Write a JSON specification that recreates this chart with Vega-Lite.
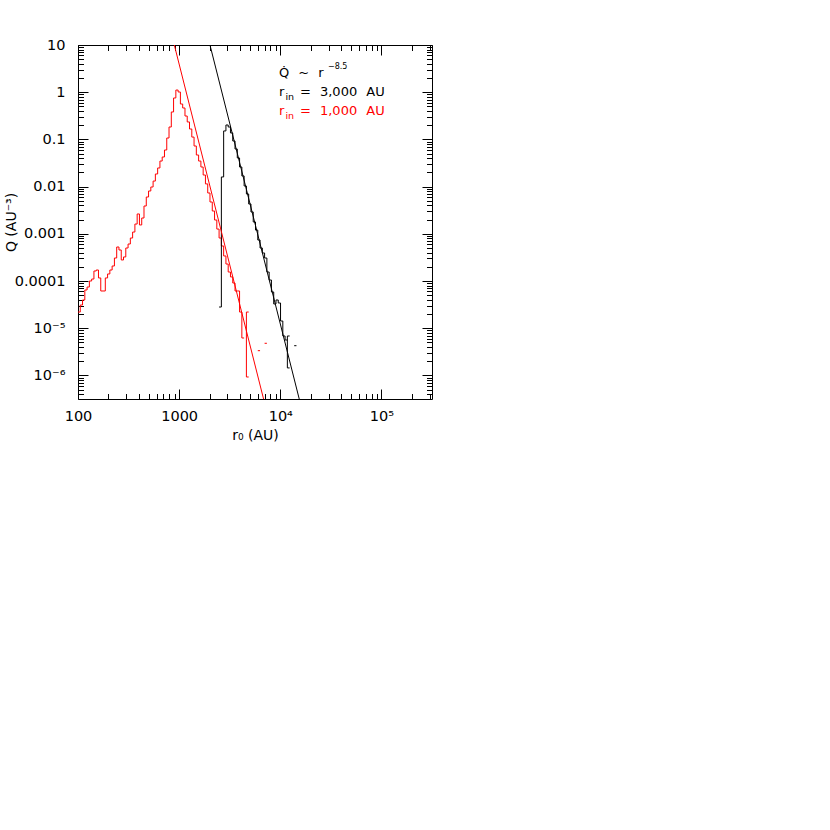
{
  "$schema": "https://vega.github.io/schema/vega-lite/v6.json",
  "width": 354,
  "height": 354,
  "autosize": {"type": "none"},
  "padding": {"left": 78, "top": 45, "right": 398, "bottom": 431},
  "background": "white",
  "config": {
    "view": {"stroke": null},
    "axis": {
      "grid": false,
      "domainColor": "#000000",
      "domainWidth": 1,
      "tickColor": "#000000",
      "tickWidth": 1,
      "labelColor": "#000000",
      "titleColor": "#000000",
      "labelFont": "DejaVu Sans",
      "titleFont": "DejaVu Sans",
      "labelFontSize": 14.5,
      "titleFontSize": 14,
      "titleFontWeight": "normal",
      "labelFlush": false,
      "labelOverlap": false
    }
  },
  "datasets": {
    "hist": [
      {"s": "r1", "c": "red", "i": 0, "r": 100, "Q": 2.2e-5},
      {"s": "r1", "c": "red", "i": 1, "r": 105.3, "Q": 3.1e-5},
      {"s": "r1", "c": "red", "i": 2, "r": 110.9, "Q": 3.96e-5},
      {"s": "r1", "c": "red", "i": 3, "r": 116.8, "Q": 6.45e-5},
      {"s": "r1", "c": "red", "i": 4, "r": 123.0, "Q": 7.46e-5},
      {"s": "r1", "c": "red", "i": 5, "r": 129.6, "Q": 1.0e-4},
      {"s": "r1", "c": "red", "i": 6, "r": 136.5, "Q": 1.1e-4},
      {"s": "r1", "c": "red", "i": 7, "r": 143.7, "Q": 1.63e-4},
      {"s": "r1", "c": "red", "i": 8, "r": 151.4, "Q": 1.71e-4},
      {"s": "r1", "c": "red", "i": 9, "r": 159.4, "Q": 1.16e-4},
      {"s": "r1", "c": "red", "i": 10, "r": 167.9, "Q": 6.14e-5},
      {"s": "r1", "c": "red", "i": 11, "r": 176.8, "Q": 6.14e-5},
      {"s": "r1", "c": "red", "i": 12, "r": 186.2, "Q": 1.16e-4},
      {"s": "r1", "c": "red", "i": 13, "r": 196.1, "Q": 1.41e-4},
      {"s": "r1", "c": "red", "i": 14, "r": 206.5, "Q": 1.71e-4},
      {"s": "r1", "c": "red", "i": 15, "r": 217.5, "Q": 2.08e-4},
      {"s": "r1", "c": "red", "i": 16, "r": 229.1, "Q": 3.07e-4},
      {"s": "r1", "c": "red", "i": 17, "r": 241.3, "Q": 5.25e-4},
      {"s": "r1", "c": "red", "i": 18, "r": 254.1, "Q": 4.54e-4},
      {"s": "r1", "c": "red", "i": 19, "r": 267.6, "Q": 2.79e-4},
      {"s": "r1", "c": "red", "i": 20, "r": 281.8, "Q": 3.23e-4},
      {"s": "r1", "c": "red", "i": 21, "r": 296.8, "Q": 5.0e-4},
      {"s": "r1", "c": "red", "i": 22, "r": 312.6, "Q": 6.08e-4},
      {"s": "r1", "c": "red", "i": 23, "r": 329.2, "Q": 8.14e-4},
      {"s": "r1", "c": "red", "i": 24, "r": 346.7, "Q": 1.09e-3},
      {"s": "r1", "c": "red", "i": 25, "r": 365.2, "Q": 1.61e-3},
      {"s": "r1", "c": "red", "i": 26, "r": 384.6, "Q": 2.63e-3},
      {"s": "r1", "c": "red", "i": 27, "r": 405.1, "Q": 1.54e-3},
      {"s": "r1", "c": "red", "i": 28, "r": 426.6, "Q": 2.16e-3},
      {"s": "r1", "c": "red", "i": 29, "r": 449.3, "Q": 3.88e-3},
      {"s": "r1", "c": "red", "i": 30, "r": 473.2, "Q": 6.02e-3},
      {"s": "r1", "c": "red", "i": 31, "r": 498.4, "Q": 8.07e-3},
      {"s": "r1", "c": "red", "i": 32, "r": 524.8, "Q": 9.81e-3},
      {"s": "r1", "c": "red", "i": 33, "r": 552.7, "Q": 1.31e-2},
      {"s": "r1", "c": "red", "i": 34, "r": 582.1, "Q": 1.85e-2},
      {"s": "r1", "c": "red", "i": 35, "r": 613.1, "Q": 2.48e-2},
      {"s": "r1", "c": "red", "i": 36, "r": 645.7, "Q": 3.48e-2},
      {"s": "r1", "c": "red", "i": 37, "r": 680.0, "Q": 4.24e-2},
      {"s": "r1", "c": "red", "i": 38, "r": 716.1, "Q": 5.96e-2},
      {"s": "r1", "c": "red", "i": 39, "r": 754.2, "Q": 0.107},
      {"s": "r1", "c": "red", "i": 40, "r": 794.3, "Q": 0.183},
      {"s": "r1", "c": "red", "i": 41, "r": 836.6, "Q": 0.381},
      {"s": "r1", "c": "red", "i": 42, "r": 881.0, "Q": 0.754},
      {"s": "r1", "c": "red", "i": 43, "r": 927.9, "Q": 1.11},
      {"s": "r1", "c": "red", "i": 44, "r": 977.2, "Q": 1.01},
      {"s": "r1", "c": "red", "i": 45, "r": 1029, "Q": 0.562},
      {"s": "r1", "c": "red", "i": 46, "r": 1084, "Q": 0.463},
      {"s": "r1", "c": "red", "i": 47, "r": 1142, "Q": 0.313},
      {"s": "r1", "c": "red", "i": 48, "r": 1202, "Q": 0.234},
      {"s": "r1", "c": "red", "i": 49, "r": 1266, "Q": 0.166},
      {"s": "r1", "c": "red", "i": 50, "r": 1334, "Q": 0.112},
      {"s": "r1", "c": "red", "i": 51, "r": 1404, "Q": 0.0725},
      {"s": "r1", "c": "red", "i": 52, "r": 1479, "Q": 0.0467},
      {"s": "r1", "c": "red", "i": 53, "r": 1558, "Q": 0.0348},
      {"s": "r1", "c": "red", "i": 54, "r": 1641, "Q": 0.026},
      {"s": "r1", "c": "red", "i": 55, "r": 1728, "Q": 0.0176},
      {"s": "r1", "c": "red", "i": 56, "r": 1820, "Q": 0.0114},
      {"s": "r1", "c": "red", "i": 57, "r": 1917, "Q": 0.00732},
      {"s": "r1", "c": "red", "i": 58, "r": 2018, "Q": 0.00472},
      {"s": "r1", "c": "red", "i": 59, "r": 2126, "Q": 0.00304},
      {"s": "r1", "c": "red", "i": 60, "r": 2239, "Q": 0.00196},
      {"s": "r1", "c": "red", "i": 61, "r": 2358, "Q": 0.00126},
      {"s": "r1", "c": "red", "i": 62, "r": 2483, "Q": 0.000814},
      {"s": "r1", "c": "red", "i": 63, "r": 2615, "Q": 0.000552},
      {"s": "r1", "c": "red", "i": 64, "r": 2754, "Q": 0.000339},
      {"s": "r1", "c": "red", "i": 65, "r": 2901, "Q": 0.000229},
      {"s": "r1", "c": "red", "i": 66, "r": 3055, "Q": 0.000155},
      {"s": "r1", "c": "red", "i": 67, "r": 3217, "Q": 0.000122},
      {"s": "r1", "c": "red", "i": 68, "r": 3388, "Q": 9.07e-5},
      {"s": "r1", "c": "red", "i": 69, "r": 3568, "Q": 6.14e-5},
      {"s": "r1", "c": "red", "i": 70, "r": 3758, "Q": 6.14e-5},
      {"s": "r1", "c": "red", "i": 71, "r": 3958, "Q": 2.2e-5},
      {"s": "r1", "c": "red", "i": 72, "r": 4169, "Q": 6.2e-6},
      {"s": "r1", "c": "red", "i": 73, "r": 4390, "Q": 6.2e-6},
      {"s": "r2", "c": "red", "i": 74, "r": 4870, "Q": 2.2e-5},
      {"s": "r2", "c": "red", "i": 75, "r": 4624, "Q": 9.25e-7},
      {"s": "r2", "c": "red", "i": 76, "r": 4870, "Q": 9.25e-7},
      {"s": "r3", "c": "red", "i": 77, "r": 5992, "Q": 3.34e-6},
      {"s": "r3", "c": "red", "i": 78, "r": 6310, "Q": 3.34e-6},
      {"s": "r4", "c": "red", "i": 79, "r": 6998, "Q": 4.79e-6},
      {"s": "r4", "c": "red", "i": 80, "r": 7370, "Q": 4.79e-6},
      {"s": "b1", "c": "black", "i": 81, "r": 2483, "Q": 2.81e-5},
      {"s": "b1", "c": "black", "i": 82, "r": 2615, "Q": 0.016},
      {"s": "b1", "c": "black", "i": 83, "r": 2754, "Q": 0.151},
      {"s": "b1", "c": "black", "i": 84, "r": 2901, "Q": 0.202},
      {"s": "b1", "c": "black", "i": 85, "r": 3055, "Q": 0.183},
      {"s": "b1", "c": "black", "i": 86, "r": 3217, "Q": 0.137},
      {"s": "b1", "c": "black", "i": 87, "r": 3388, "Q": 0.0925},
      {"s": "b1", "c": "black", "i": 88, "r": 3568, "Q": 0.0626},
      {"s": "b1", "c": "black", "i": 89, "r": 3758, "Q": 0.0404},
      {"s": "b1", "c": "black", "i": 90, "r": 3958, "Q": 0.026},
      {"s": "b1", "c": "black", "i": 91, "r": 4169, "Q": 0.0168},
      {"s": "b1", "c": "black", "i": 92, "r": 4390, "Q": 0.0103},
      {"s": "b1", "c": "black", "i": 93, "r": 4624, "Q": 0.00697},
      {"s": "b1", "c": "black", "i": 94, "r": 4870, "Q": 0.00428},
      {"s": "b1", "c": "black", "i": 95, "r": 5129, "Q": 0.0029},
      {"s": "b1", "c": "black", "i": 96, "r": 5401, "Q": 0.00178},
      {"s": "b1", "c": "black", "i": 97, "r": 5689, "Q": 0.0012},
      {"s": "b1", "c": "black", "i": 98, "r": 5992, "Q": 0.000739},
      {"s": "b1", "c": "black", "i": 99, "r": 6310, "Q": 0.0005},
      {"s": "b1", "c": "black", "i": 100, "r": 6646, "Q": 0.000392},
      {"s": "b1", "c": "black", "i": 101, "r": 6998, "Q": 0.000307},
      {"s": "b1", "c": "black", "i": 102, "r": 7370, "Q": 0.000155},
      {"s": "b1", "c": "black", "i": 103, "r": 7762, "Q": 0.000105},
      {"s": "b1", "c": "black", "i": 104, "r": 8175, "Q": 5.85e-5},
      {"s": "b1", "c": "black", "i": 105, "r": 8610, "Q": 3.26e-5},
      {"s": "b1", "c": "black", "i": 106, "r": 9068, "Q": 3.96e-5},
      {"s": "b1", "c": "black", "i": 107, "r": 9550, "Q": 3.42e-5},
      {"s": "b1", "c": "black", "i": 108, "r": 10058, "Q": 1.42e-5},
      {"s": "b1", "c": "black", "i": 109, "r": 10593, "Q": 6.84e-6},
      {"s": "b1", "c": "black", "i": 110, "r": 11156, "Q": 5.62e-6},
      {"s": "b1", "c": "black", "i": 111, "r": 11749, "Q": 5.62e-6},
      {"s": "b2", "c": "black", "i": 112, "r": 12374, "Q": 6.84e-6},
      {"s": "b2", "c": "black", "i": 113, "r": 11749, "Q": 1.44e-6},
      {"s": "b2", "c": "black", "i": 114, "r": 12374, "Q": 1.44e-6},
      {"s": "b3", "c": "black", "i": 115, "r": 13725, "Q": 4.26e-6},
      {"s": "b3", "c": "black", "i": 116, "r": 14454, "Q": 4.26e-6}
    ],
    "fitBlack": [
      {"c": "black", "r": 1800, "Q": 26.4},
      {"c": "black", "r": 17000, "Q": 1.36e-7}
    ],
    "fitRed": [
      {"c": "red", "r": 800, "Q": 26.2},
      {"c": "red", "r": 7000, "Q": 2.58e-7}
    ],
    "notes": [
      {"t": "Q\u0307\u2002\u2009~\u2002\u2009r", "c": "black", "r": 9705, "Q": 2.1},
      {"t": "r", "c": "black", "r": 9705, "Q": 0.831},
      {"t": "r", "c": "red", "r": 9705, "Q": 0.329}
    ],
    "subs": [
      {"t": "in", "c": "black", "r": 9705, "Q": 0.831},
      {"t": "in", "c": "red", "r": 9705, "Q": 0.329}
    ],
    "rest": [
      {"t": "=\u2002\u20093,000\u2002\u2009AU", "c": "black", "r": 9705, "Q": 0.831},
      {"t": "=\u2002\u20091,000\u2002\u2009AU", "c": "red", "r": 9705, "Q": 0.329}
    ],
    "sup": [
      {"t": "−8.5", "c": "black", "r": 29650, "Q": 3.1}
    ]
  },
  "layer": [
    {
      "data": {"name": "hist"},
      "mark": {"type": "line", "interpolate": "step-after", "strokeWidth": 1, "clip": true},
      "encoding": {
        "x": {
          "field": "r", "type": "quantitative",
          "scale": {"type": "log", "domain": [100, 316228], "nice": false},
          "axis": {
            "orient": "bottom",
            "values": [100, 1000, 10000, 100000],
            "tickSize": -10,
            "labelPadding": 20,
            "labelExpr": "datum.value > 50000 ? '10⁵' : datum.value > 5000 ? '10⁴' : datum.value > 500 ? '1000' : '100'",
            "title": "r₀ (AU)",
            "titleX": 177,
            "titleY": 40,
            "titleBaseline": "alphabetic",
            "titleAlign": "center"
          }
        },
        "y": {
          "field": "Q", "type": "quantitative",
          "scale": {"type": "log", "domain": [3.16228e-7, 10], "nice": false},
          "axis": {
            "orient": "left",
            "values": [1e-6, 1e-5, 1e-4, 0.001, 0.01, 0.1, 1, 10],
            "tickSize": -10,
            "labelPadding": 23,
            "labelExpr": "datum.value > 5 ? '10' : datum.value > 0.5 ? '1' : datum.value > 0.05 ? '0.1' : datum.value > 0.005 ? '0.01' : datum.value > 0.0005 ? '0.001' : datum.value > 0.00005 ? '0.0001' : datum.value > 0.000005 ? '10⁻⁵' : '10⁻⁶'",
            "title": "Q (AU⁻³)",
            "titleX": -63,
            "titleY": 177,
            "titleAngle": -90,
            "titleBaseline": "alphabetic",
            "titleAlign": "center"
          }
        },
        "color": {"field": "c", "type": "nominal", "scale": {"domain": ["black", "red"], "range": ["#000000", "#ff0000"]}, "legend": null},
        "detail": {"field": "s"},
        "order": {"field": "i", "type": "quantitative"}
      }
    },
    {
      "data": {"name": "fitBlack"},
      "mark": {"type": "line", "strokeWidth": 1, "clip": true},
      "encoding": {
        "x": {"field": "r", "type": "quantitative", "axis": {"orient": "top", "values": [100, 1000, 10000, 100000], "tickSize": -10, "labels": false, "title": null}},
        "y": {"field": "Q", "type": "quantitative", "axis": {"orient": "right", "values": [1e-6, 1e-5, 1e-4, 0.001, 0.01, 0.1, 1, 10], "tickSize": -10, "labels": false, "title": null}},
        "color": {"field": "c", "type": "nominal", "legend": null}
      }
    },
    {
      "data": {"name": "fitRed"},
      "mark": {"type": "line", "strokeWidth": 1, "clip": true},
      "encoding": {
        "x": {"field": "r", "type": "quantitative", "axis": {"orient": "bottom", "values": [200, 300, 400, 500, 600, 700, 800, 900, 2000, 3000, 4000, 5000, 6000, 7000, 8000, 9000, 20000, 30000, 40000, 50000, 60000, 70000, 80000, 90000, 200000, 300000], "tickSize": -5.5, "labels": false, "domain": false, "title": null}},
        "y": {"field": "Q", "type": "quantitative", "axis": {"orient": "left", "values": [4e-7, 5e-7, 6e-7, 7e-7, 8e-7, 9e-7, 2e-6, 3e-6, 4e-6, 5e-6, 6e-6, 7e-6, 8e-6, 9e-6, 2e-5, 3e-5, 4e-5, 5e-5, 6e-5, 7e-5, 8e-5, 9e-5, 2e-4, 3e-4, 4e-4, 5e-4, 6e-4, 7e-4, 8e-4, 9e-4, 0.002, 0.003, 0.004, 0.005, 0.006, 0.007, 0.008, 0.009, 0.02, 0.03, 0.04, 0.05, 0.06, 0.07, 0.08, 0.09, 0.2, 0.3, 0.4, 0.5, 0.6, 0.7, 0.8, 0.9, 2, 3, 4, 5, 6, 7, 8, 9], "tickSize": -5.5, "labels": false, "domain": false, "title": null}},
        "color": {"field": "c", "type": "nominal", "legend": null}
      }
    },
    {
      "data": {"name": "notes"},
      "mark": {"type": "text", "align": "left", "baseline": "alphabetic", "font": "DejaVu Sans", "fontSize": 13},
      "encoding": {
        "x": {"field": "r", "type": "quantitative", "axis": {"orient": "top", "values": [200, 300, 400, 500, 600, 700, 800, 900, 2000, 3000, 4000, 5000, 6000, 7000, 8000, 9000, 20000, 30000, 40000, 50000, 60000, 70000, 80000, 90000, 200000, 300000], "tickSize": -5.5, "labels": false, "domain": false, "title": null}},
        "y": {"field": "Q", "type": "quantitative", "axis": {"orient": "right", "values": [4e-7, 5e-7, 6e-7, 7e-7, 8e-7, 9e-7, 2e-6, 3e-6, 4e-6, 5e-6, 6e-6, 7e-6, 8e-6, 9e-6, 2e-5, 3e-5, 4e-5, 5e-5, 6e-5, 7e-5, 8e-5, 9e-5, 2e-4, 3e-4, 4e-4, 5e-4, 6e-4, 7e-4, 8e-4, 9e-4, 0.002, 0.003, 0.004, 0.005, 0.006, 0.007, 0.008, 0.009, 0.02, 0.03, 0.04, 0.05, 0.06, 0.07, 0.08, 0.09, 0.2, 0.3, 0.4, 0.5, 0.6, 0.7, 0.8, 0.9, 2, 3, 4, 5, 6, 7, 8, 9], "tickSize": -5.5, "labels": false, "domain": false, "title": null}},
        "text": {"field": "t"},
        "color": {"field": "c", "type": "nominal", "legend": null}
      }
    },
    {
      "data": {"name": "subs"},
      "mark": {"type": "text", "align": "left", "baseline": "alphabetic", "font": "DejaVu Sans", "fontSize": 9.5, "dx": 6.5, "dy": 4},
      "encoding": {
        "x": {"field": "r", "type": "quantitative", "axis": null},
        "y": {"field": "Q", "type": "quantitative", "axis": null},
        "text": {"field": "t"},
        "color": {"field": "c", "type": "nominal", "legend": null}
      }
    },
    {
      "data": {"name": "rest"},
      "mark": {"type": "text", "align": "left", "baseline": "alphabetic", "font": "DejaVu Sans", "fontSize": 13, "dx": 21},
      "encoding": {
        "x": {"field": "r", "type": "quantitative", "axis": null},
        "y": {"field": "Q", "type": "quantitative", "axis": null},
        "text": {"field": "t"},
        "color": {"field": "c", "type": "nominal", "legend": null}
      }
    },
    {
      "data": {"name": "sup"},
      "mark": {"type": "text", "align": "left", "baseline": "alphabetic", "font": "DejaVu Sans", "fontSize": 8},
      "encoding": {
        "x": {"field": "r", "type": "quantitative", "axis": null},
        "y": {"field": "Q", "type": "quantitative", "axis": null},
        "text": {"field": "t"},
        "color": {"field": "c", "type": "nominal", "legend": null}
      }
    }
  ],
  "resolve": {"axis": {"x": "independent", "y": "independent"}}
}
